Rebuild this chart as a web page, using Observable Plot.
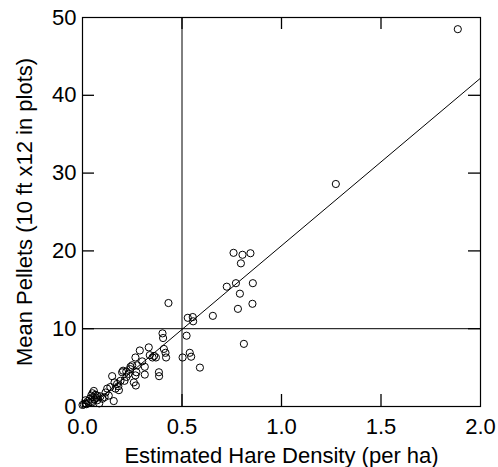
<!DOCTYPE html>
<html>
<head>
<meta charset="utf-8">
<script src="https://cdn.jsdelivr.net/npm/d3@7"></script>
<script src="https://cdn.jsdelivr.net/npm/@observablehq/plot@0.6"></script>
<style>
  html, body { margin: 0; padding: 0; background: #fff; }
</style>
</head>
<body>
<div id="chart"></div>
<script>
// Estimated hare density (per ha) for each plot
const hareDensity = [
  0.00, 0.007, 0.015, 0.02, 0.027, 0.037, 0.044, 0.049, 0.054, 0.057, 0.06, 0.065, 0.074, 0.074, 0.084, 0.09, 0.015,
  0.03, 0.05, 0.07, 0.10, 0.14, 0.18, 0.22, 0.24, 0.30, 0.36,
  0.111, 0.116, 0.124, 0.132, 0.157, 0.149, 0.161, 0.166, 0.174, 0.183,
  0.191, 0.199, 0.204, 0.211, 0.221, 0.231, 0.241, 0.25, 0.258, 0.266, 0.268, 0.271, 0.275, 0.266, 0.288,
  0.313, 0.313, 0.333, 0.338, 0.352, 0.369, 0.384, 0.385, 0.402, 0.405, 0.409, 0.417, 0.42, 0.432,
  0.503, 0.523, 0.529, 0.539, 0.546, 0.554, 0.556, 0.59, 0.655,
  0.725, 0.759, 0.771, 0.781, 0.791, 0.796, 0.804, 0.811, 0.844, 0.854, 0.856,
  1.273, 1.886
];
// Mean pellets (10 ft x 12 in plots)
const meanPellets = [
  0.2, 0.26, 0.4, 0.3, 0.7, 1.0, 1.4, 0.55, 1.2, 2.0, 0.9, 1.5, 1.4, 0.8, 0.4, 1.3, 0.8,
  0.5, 1.7, 1.1, 1.0, 2.5, 2.6, 4.5, 4.8, 5.8, 6.5,
  1.2, 1.8, 2.3, 1.4, 0.7, 3.9, 3.1, 2.3, 2.9, 2.1,
  3.3, 4.4, 4.6, 3.3, 3.8, 4.2, 5.1, 5.3, 3.1, 4.0, 2.7, 4.4, 5.3, 6.3, 7.2,
  5.1, 4.1, 7.6, 6.6, 6.3, 6.3, 4.4, 3.9, 9.4, 8.8, 7.4, 6.9, 6.3, 13.3,
  6.3, 9.1, 11.4, 6.9, 6.4, 11.5, 10.95, 5.0, 11.65,
  15.4, 19.75, 15.85, 12.55, 14.5, 18.4, 19.5, 8.05, 19.7, 13.2, 15.85,
  28.6, 48.5
];
// Fitted regression line end points
const fitX = [0.04, 2.0];
const fitY = [0, 42.2];
// Reference lines
const refX = [0.5];
const refY = [10];
// Tick values
const xTickLabels = [0, 0.5, 1.0, 1.5, 2.0];
const xInnerTicks = [0.5, 1.0, 1.5];
const yTickLabels = [0, 10, 20, 30, 40, 50];
const yInnerTicks = [10, 20, 30, 40];
const xMin = 0, xMax = 2, yMin = 0, yMax = 50;

const W = 498, H = 467, mL = 82, mR = 18, mT = 17, mB = 61;
const tickLen = 12; // px
// tick length expressed in data units so the inward ticks go through the scales
const tickY = tickLen * (yMax - yMin) / (H - mT - mB);
const tickX = tickLen * (xMax - xMin) / (W - mL - mR);

const points = hareDensity.map((x, i) => ({x, y: meanPellets[i]}));
const fit = fitX.map((x, i) => ({x, y: fitY[i]}));

const chart = Plot.plot({
  width: W,
  height: H,
  marginLeft: mL,
  marginRight: mR,
  marginTop: mT,
  marginBottom: mB,
  style: {fontFamily: "'Liberation Sans', Arial, sans-serif", fontSize: "22px", background: "#fff", color: "#000"},
  x: {domain: [xMin, xMax]},
  y: {domain: [yMin, yMax]},
  marks: [
    Plot.ruleX(refX, {stroke: "#000", strokeWidth: 1}),
    Plot.ruleY(refY, {stroke: "#000", strokeWidth: 1}),
    Plot.line(fit, {x: "x", y: "y", stroke: "#000", strokeWidth: 1}),
    Plot.dot(points, {x: "x", y: "y", r: 3.6, stroke: "#000", strokeWidth: 1, fill: "none"}),
    // inward ticks
    Plot.ruleX(xInnerTicks, {x: d => d, y1: yMin, y2: yMin + tickY, stroke: "#000", strokeWidth: 1.3}),
    Plot.ruleX(xInnerTicks, {x: d => d, y1: yMax - tickY, y2: yMax, stroke: "#000", strokeWidth: 1.3}),
    Plot.ruleY(yInnerTicks, {y: d => d, x1: xMin, x2: xMin + tickX, stroke: "#000", strokeWidth: 1.3}),
    Plot.ruleY(yInnerTicks, {y: d => d, x1: xMax - tickX, x2: xMax, stroke: "#000", strokeWidth: 1.3}),
    Plot.axisX(xTickLabels, {anchor: "bottom", tickSize: 0, tickPadding: 12, tickFormat: d3.format(".1f"),
      label: "Estimated Hare Density (per ha)", labelAnchor: "center", labelOffset: 56, labelArrow: "none"}),
    Plot.axisY(yTickLabels, {anchor: "left", tickSize: 0, tickPadding: 6,
      label: "Mean Pellets (10 ft x12 in plots)", labelAnchor: "center", labelOffset: 66, labelArrow: "none"}),
    Plot.frame({stroke: "#000", strokeWidth: 1.2})
  ]
});
document.getElementById("chart").appendChild(chart);
</script>
</body>
</html>
